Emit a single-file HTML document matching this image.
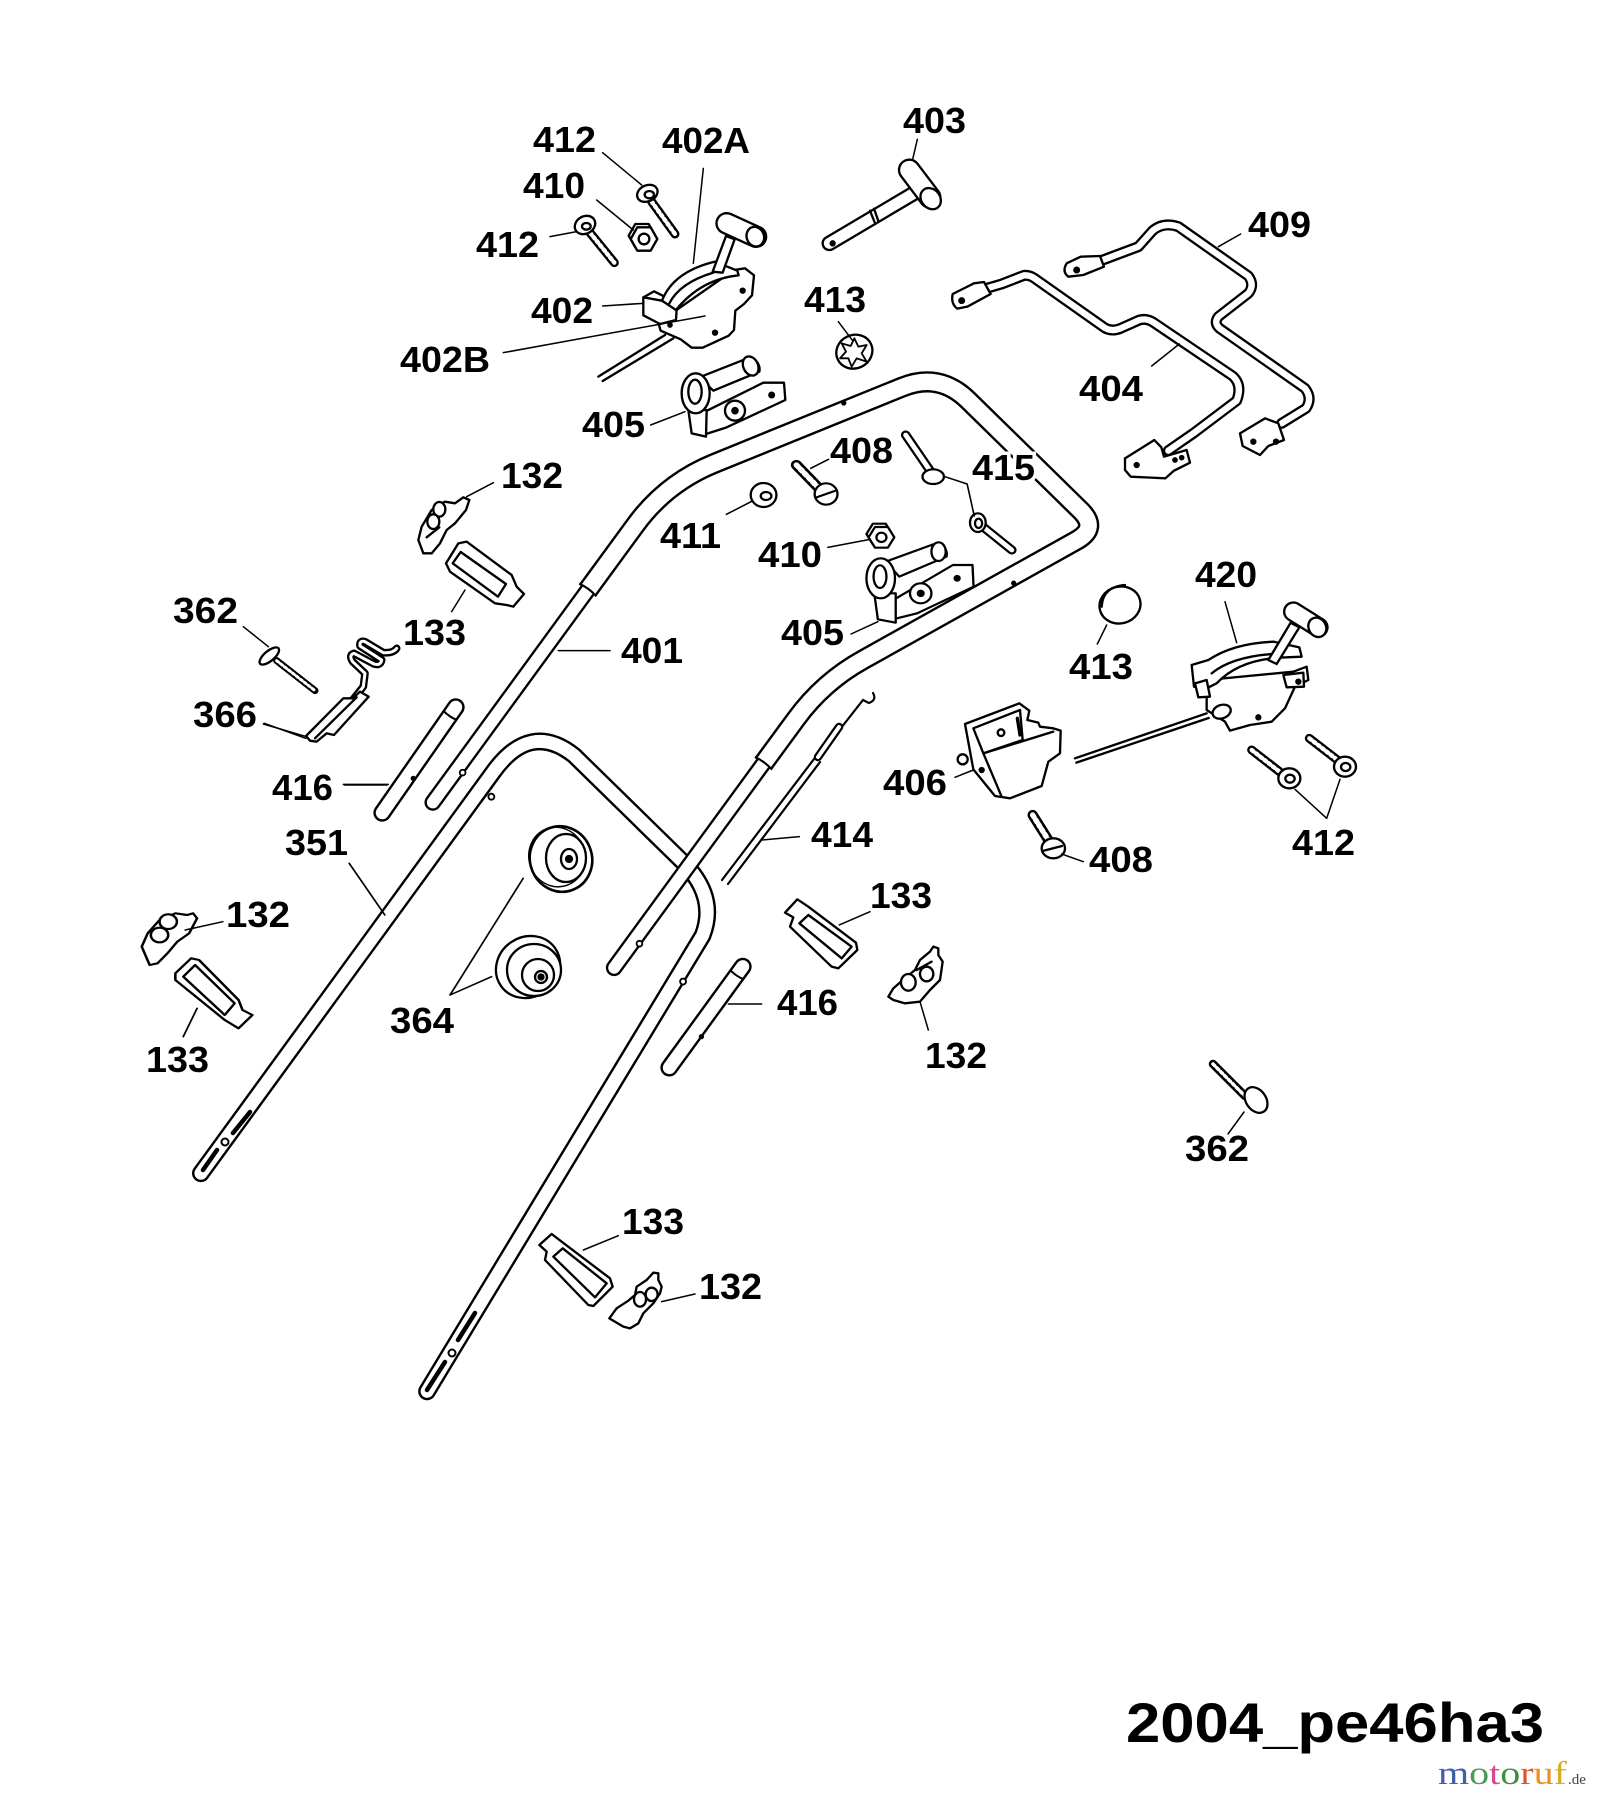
<!DOCTYPE html>
<html><head><meta charset="utf-8"><style>
html,body{margin:0;padding:0;background:#fff;}
svg{display:block}
.t{font-family:"Liberation Sans",Arial,sans-serif;font-weight:bold;font-size:36px;fill:#000}
</style></head><body>
<svg width="1598" height="1800" viewBox="0 0 1598 1800" xmlns="http://www.w3.org/2000/svg">
<rect width="1598" height="1800" fill="#fff"/>

<!-- ===== Handles (display coords, scaled) ===== -->
<g transform="scale(1.148)" fill="none" stroke-linejoin="round">
 <!-- 351 lower handle -->
 <path d="M175 1022 L430 672 Q462 628 500 658 L596 752 Q625 782 612 815 L372 1212" stroke="#000" stroke-width="15.5" stroke-linecap="round"/>
 <path d="M175 1022 L430 672 Q462 628 500 658 L596 752 Q625 782 612 815 L372 1212" stroke="#fff" stroke-width="11.3" stroke-linecap="round"/>
 <circle cx="428" cy="694" r="2.6" fill="#fff" stroke="#000" stroke-width="1.6"/>
 <circle cx="595" cy="855" r="2.6" fill="#fff" stroke="#000" stroke-width="1.6"/>
 <!-- 401 legs -->
 <path d="M377 699 L512 514 M535 843 L665 665" stroke="#000" stroke-width="14.5" stroke-linecap="round"/>
 <path d="M377 699 L512 514 M535 843 L665 665" stroke="#fff" stroke-width="10.4" stroke-linecap="round"/>
 <!-- 401 upper loop -->
 <path d="M512 514 L553.5 457.3 Q580 421 621.6 403.9 L785.6 337.3 Q818 324 843.1 348.4 L941.2 444.6 Q957 460 937.8 470.7 L752 574.6 Q717 594 693.4 626.3 L665 665" stroke="#000" stroke-width="18.5"/>
 <path d="M512 514 L553.5 457.3 Q580 421 621.6 403.9 L785.6 337.3 Q818 324 843.1 348.4 L941.2 444.6 Q957 460 937.8 470.7 L752 574.6 Q717 594 693.4 626.3 L665 665" stroke="#fff" stroke-width="14.3"/>
 <path d="M504.5 508.5 Q513 512 519.5 519.5 M657.5 659.5 Q666 663 672.5 670.5" stroke="#000" stroke-width="1.8"/>
 <circle cx="735" cy="351" r="2.3" fill="#000"/>
 <circle cx="883" cy="508" r="2.3" fill="#000"/>
 <circle cx="403" cy="673" r="2.5" fill="#fff" stroke="#000" stroke-width="1.6"/>
 <circle cx="557" cy="822" r="2.5" fill="#fff" stroke="#000" stroke-width="1.6"/>
 <!-- 416 tubes -->
 <path d="M397 616 L333 708 M647 842 L583 930" stroke="#000" stroke-width="15.5" stroke-linecap="round"/>
 <path d="M397 616 L333 708 M647 842 L583 930" stroke="#fff" stroke-width="11.3" stroke-linecap="round"/>
 <path d="M386 619 Q392 625 398 627 M636 845 Q642 851 648 853" stroke="#000" stroke-width="1.8"/>
 <circle cx="360" cy="678" r="2.3" fill="#000"/>
 <circle cx="611" cy="903" r="2.3" fill="#000"/>
</g>

<!-- 351 slots (orig) -->
<g stroke="#000" fill="none" stroke-linecap="round">
 <path d="M250 1112 L233 1133 M217 1150 L203 1170 M475 1313 L458 1340 M445 1362 L427 1390" stroke-width="4.5"/>
 <circle cx="225" cy="1142" r="3.5" stroke-width="2" fill="#fff"/>
 <circle cx="452" cy="1353" r="3.5" stroke-width="2" fill="#fff"/>
</g>

<!-- 414 cable (orig) -->
<g stroke="#000" fill="none" stroke-linecap="round" stroke-width="2.2">
 <path d="M873 693 Q877 700 869 703 L863 700 L841 728"/>
 <path d="M839 727 L818 757" stroke-width="8.5"/>
 <path d="M839 727 L818 757" stroke="#fff" stroke-width="4"/>
 <path d="M814 759 L722 880 M820 762 L728 884"/>
</g>

<!-- ===== Zoom3 group: 412,410,402,405 ===== -->
<g transform="translate(380 90) scale(0.33333)" stroke="#000" stroke-width="7" stroke-linejoin="round" stroke-linecap="round" fill="#fff">
 <path d="M815 335 L885 432" stroke-width="27" fill="none"/>
 <path d="M815 335 L885 432" stroke="#fff" stroke-width="13" stroke-dasharray="7 9" fill="none"/>
 <ellipse cx="802" cy="310" rx="32" ry="24" transform="rotate(-25 802 310)"/>
 <ellipse cx="808" cy="314" rx="14" ry="11"/>
 <polygon points="826,437 806,472 766,472 746,437 766,402 806,402"/>
 <polygon points="832,447 812,482 772,482 752,447 772,412 812,412"/>
 <circle cx="792" cy="447" r="16"/>
 <path d="M630 428 L703 518" stroke-width="27" fill="none"/>
 <path d="M630 428 L703 518" stroke="#fff" stroke-width="13" stroke-dasharray="7 9" fill="none"/>
 <ellipse cx="615" cy="405" rx="32" ry="26" transform="rotate(-30 615 405)"/>
 <ellipse cx="619" cy="409" rx="13" ry="10"/>
 <!-- 402 -->
 <path d="M855 735 L655 860 M880 745 L668 873" fill="none"/>
 <path d="M835 698 L842 722 L902 748 L935 773 L968 773 L1046 737 L1062 720 L1066 662 L1092 642 L1116 616 L1122 556 L1095 535 L1062 540 Z"/>
 <path d="M790 622 L790 676 L840 702 L888 690 L890 656 L846 632 Z"/>
 <path d="M790 622 L822 604 L866 626 L846 632" fill="none"/>
 <path d="M846 632 Q880 545 1005 515 L1072 542 L1076 556 Q962 568 888 660 Z"/>
 <path d="M868 640 Q900 578 1000 548" fill="none"/>
 <path d="M998 545 L1038 438 L1064 448 L1028 548 Z"/>
 <path d="M1040 400 L1128 440" stroke-width="68" fill="none"/>
 <path d="M1040 400 L1128 440" stroke="#fff" stroke-width="54" fill="none"/>
 <ellipse cx="1126" cy="440" rx="26" ry="30" transform="rotate(-20 1126 440)"/>
 <circle cx="1088" cy="602" r="6" fill="#000"/>
 <circle cx="1005" cy="728" r="6" fill="#000"/>
 <circle cx="870" cy="705" r="5" fill="#000"/>
 <!-- 405 top -->
 <path d="M975 965 L1150 878 L1212 878 L1216 930 L1040 1012 L978 1032 Z"/>
 <circle cx="1065" cy="962" r="30"/>
 <circle cx="1065" cy="962" r="8" fill="#000"/>
 <circle cx="1175" cy="915" r="7" fill="#000"/>
 <path d="M958 862 L1095 808 A32 32 0 0 1 1138 845 L1000 902 Z"/>
 <ellipse cx="1112" cy="828" rx="22" ry="30" transform="rotate(-25 1112 828)"/>
 <path d="M925 960 L935 1030 L978 1040 L980 960 Z"/>
 <ellipse cx="947" cy="910" rx="42" ry="60"/>
 <ellipse cx="945" cy="905" rx="20" ry="36"/>
 <!-- leaders -->
 <g fill="none" stroke-width="4.5">
  <path d="M668 188 L785 285"/>
  <path d="M650 330 L760 420"/>
  <path d="M510 440 L590 425"/>
  <path d="M970 235 L940 520"/>
  <path d="M668 648 L790 640"/>
  <path d="M370 788 L975 678"/>
  <path d="M812 1005 L915 965"/>
 </g>
</g>

<!-- ===== Zoom4 group: 403, 409, 404, 413 ===== -->
<g transform="translate(820 90) scale(0.33333)" stroke="#000" stroke-width="7" stroke-linejoin="round" stroke-linecap="round" fill="#fff">
 <path d="M290 305 L28 460" stroke-width="47" fill="none"/>
 <path d="M290 305 L28 460" stroke="#fff" stroke-width="33" fill="none"/>
 <circle cx="38" cy="460" r="6" fill="#000"/>
 <path d="M150 362 L166 402 M162 356 L176 396" fill="none"/>
 <path d="M268 240 L330 322" stroke-width="69" fill="none"/>
 <path d="M268 240 L330 322" stroke="#fff" stroke-width="55" fill="none"/>
 <ellipse cx="332" cy="326" rx="28" ry="34" transform="rotate(-40 332 326)"/>
 <!-- 409 -->
 <path d="M800 528 L862 505 L955 470 L998 422 Q1030 395 1075 410 L1285 558 Q1305 585 1285 610 L1195 680 Q1180 700 1200 716 L1455 895 Q1478 925 1458 955 L1385 1000" stroke-width="33" fill="none"/>
 <path d="M800 528 L862 505 L955 470 L998 422 Q1030 395 1075 410 L1285 558 Q1305 585 1285 610 L1195 680 Q1180 700 1200 716 L1455 895 Q1478 925 1458 955 L1385 1000" stroke="#fff" stroke-width="19" fill="none"/>
 <path d="M740 520 L782 500 L840 498 L852 530 L790 555 L745 560 Q725 545 740 520 Z"/>
 <circle cx="770" cy="540" r="7" fill="#000"/>
 <path d="M1260 1030 L1335 985 L1375 1000 L1392 1050 L1345 1068 L1320 1095 L1268 1068 Z"/>
 <circle cx="1300" cy="1055" r="6" fill="#000"/>
 <circle cx="1368" cy="1055" r="6" fill="#000"/>
 <!-- 404 -->
 <path d="M490 598 L545 582 L612 556 Q630 555 645 566 L855 714 Q875 725 900 716 L958 690 Q980 684 1000 697 L1238 858 Q1268 885 1250 932 L1120 1030 L1045 1082" stroke-width="33" fill="none"/>
 <path d="M490 598 L545 582 L612 556 Q630 555 645 566 L855 714 Q875 725 900 716 L958 690 Q980 684 1000 697 L1238 858 Q1268 885 1250 932 L1120 1030 L1045 1082" stroke="#fff" stroke-width="19" fill="none"/>
 <path d="M398 612 L462 580 L492 576 L512 612 L442 650 L412 656 Q392 642 398 612 Z"/>
 <circle cx="425" cy="632" r="7" fill="#000"/>
 <path d="M915 1105 L1003 1050 L1024 1072 L1032 1100 L1100 1080 L1110 1118 L1062 1142 L1036 1165 L932 1160 L915 1140 Z"/>
 <circle cx="950" cy="1125" r="6" fill="#000"/>
 <circle cx="1065" cy="1110" r="5" fill="#000"/>
 <circle cx="1085" cy="1103" r="5" fill="#000"/>
 <!-- 413 star washer -->
 <ellipse cx="103" cy="785" rx="55" ry="50" transform="rotate(-25 103 785)"/>
 <polygon points="103,745 115,770 140,765 125,790 140,815 110,805 95,830 85,805 60,805 78,785 65,760 92,768" stroke-width="5.5"/>
 <g fill="none" stroke-width="4.5">
  <path d="M292 148 L278 208"/>
  <path d="M1262 432 L1195 470"/>
  <path d="M995 828 L1078 762"/>
  <path d="M55 695 L98 752"/>
 </g>
</g>

<!-- ===== Zoom5 group: 415, 408, 411, 410, 405 ===== -->
<g transform="translate(560 360) scale(0.357143 0.333333)" stroke="#000" stroke-width="6.5" stroke-linejoin="round" stroke-linecap="round" fill="#fff">
 <path d="M968 225 L1035 330" stroke-width="27" fill="none"/>
 <path d="M968 225 L1035 330" stroke="#fff" stroke-width="14" fill="none"/>
 <ellipse cx="1045" cy="350" rx="30" ry="22"/>
 <path d="M1178 495 L1265 570" stroke-width="27" fill="none"/>
 <path d="M1178 495 L1265 570" stroke="#fff" stroke-width="14" fill="none"/>
 <ellipse cx="1170" cy="488" rx="22" ry="28"/>
 <ellipse cx="1172" cy="490" rx="10" ry="14"/>
 <!-- 408 -->
 <path d="M662 315 L728 388" stroke-width="31" fill="none"/>
 <path d="M662 315 L728 388" stroke="#fff" stroke-width="16" stroke-dasharray="8 9" fill="none"/>
 <ellipse cx="745" cy="402" rx="32" ry="32"/>
 <path d="M718 412 L772 392" fill="none"/>
 <!-- 411 -->
 <ellipse cx="570" cy="405" rx="36" ry="36"/>
 <ellipse cx="577" cy="408" rx="15" ry="12"/>
 <!-- 410 -->
 <polygon points="930,522 912,553 876,553 858,522 876,491 912,491"/>
 <polygon points="936,532 918,563 882,563 864,532 882,501 918,501"/>
 <circle cx="900" cy="532" r="14"/>
 <!-- 405 second -->
 <path d="M930 722 L1100 615 L1155 615 L1158 680 L1000 760 L932 778 Z"/>
 <circle cx="1010" cy="700" r="30"/>
 <circle cx="1010" cy="700" r="8" fill="#000"/>
 <circle cx="1112" cy="655" r="7" fill="#000"/>
 <path d="M912 605 L1040 555 A30 30 0 0 1 1082 590 L950 650 Z"/>
 <ellipse cx="1060" cy="575" rx="20" ry="28"/>
 <path d="M880 700 L890 778 L940 788 L940 700 Z"/>
 <ellipse cx="898" cy="655" rx="40" ry="60"/>
 <ellipse cx="896" cy="650" rx="18" ry="34"/>
 <g fill="none" stroke-width="4.5">
  <path d="M1078 350 L1140 372 L1160 468"/>
  <path d="M702 325 L752 298"/>
  <path d="M466 463 L535 425"/>
  <path d="M750 562 L868 538"/>
  <path d="M815 822 L890 785"/>
 </g>
</g>

<!-- ===== Zoom6 group: 413, 420, 406, 412, 408 ===== -->
<g transform="translate(940 540) scale(0.33333)" stroke="#000" stroke-width="7" stroke-linejoin="round" stroke-linecap="round" fill="#fff">
 <ellipse cx="540" cy="195" rx="62" ry="55" transform="rotate(-15 540 195)"/>
 <path d="M485 200 Q488 140 555 135" fill="none"/>
 <!-- cable -->
 <path d="M800 520 L405 655 M806 534 L409 668" fill="none"/>
 <!-- 420 -->
 <path d="M800 420 L1060 395 L1100 380 L1105 420 L1065 440 L1035 505 L995 545 L930 555 L870 572 L855 545 L800 510 Z"/>
 <path d="M755 375 L805 360 Q880 310 1000 305 L1078 322 L1085 350 L1040 352 Q900 355 830 430 L800 445 L762 440 Z"/>
 <path d="M815 400 Q880 345 1030 340" fill="none"/>
 <path d="M985 360 L1052 248 L1078 262 L1010 372 Z"/>
 <path d="M1060 215 L1135 262" stroke-width="62" fill="none"/>
 <path d="M1060 215 L1135 262" stroke="#fff" stroke-width="48" fill="none"/>
 <ellipse cx="1132" cy="262" rx="26" ry="30" transform="rotate(-30 1132 262)"/>
 <path d="M1030 405 L1090 398 L1092 440 L1040 442 Z"/>
 <path d="M765 430 L800 420 L810 470 L775 472 Z"/>
 <ellipse cx="845" cy="515" rx="28" ry="20" transform="rotate(-20 845 515)"/>
 <circle cx="955" cy="532" r="6" fill="#000"/>
 <circle cx="1075" cy="425" r="6" fill="#000"/>
 <!-- 406 -->
 <circle cx="68" cy="658" r="15"/>
 <path d="M75 552 L238 490 L268 512 L262 540 L295 548 L300 560 L340 565 L362 572 L360 640 L325 665 L305 738 L210 775 L165 768 L100 688 Z"/>
 <path d="M100 565 L240 510 L248 600 L130 640 Z"/>
 <path d="M130 640 L185 770 M130 640 L340 575" fill="none"/>
 <circle cx="183" cy="578" r="10"/>
 <path d="M232 535 L240 585" stroke-width="10" fill="none"/>
 <circle cx="125" cy="690" r="6" fill="#000"/>
 <!-- 412 pair -->
 <path d="M935 630 L1025 700" stroke-width="27" fill="none"/>
 <path d="M935 630 L1025 700" stroke="#fff" stroke-width="13" stroke-dasharray="7 9" fill="none"/>
 <ellipse cx="1048" cy="715" rx="33" ry="30"/>
 <ellipse cx="1050" cy="716" rx="14" ry="12"/>
 <path d="M1108 595 L1195 662" stroke-width="27" fill="none"/>
 <path d="M1108 595 L1195 662" stroke="#fff" stroke-width="13" stroke-dasharray="7 9" fill="none"/>
 <ellipse cx="1215" cy="680" rx="33" ry="30"/>
 <ellipse cx="1217" cy="681" rx="14" ry="12"/>
 <!-- 408 second -->
 <path d="M278 825 L325 900" stroke-width="31" fill="none"/>
 <path d="M278 825 L325 900" stroke="#fff" stroke-width="16" stroke-dasharray="8 9" fill="none"/>
 <ellipse cx="340" cy="925" rx="35" ry="30"/>
 <path d="M312 932 L366 918" fill="none"/>
 <g fill="none" stroke-width="4.5">
  <path d="M500 255 L472 312"/>
  <path d="M855 185 L890 308"/>
  <path d="M45 712 L100 690"/>
  <path d="M1160 835 L1065 748 M1160 835 L1200 718"/>
  <path d="M365 942 L430 965"/>
 </g>
</g>

<!-- ===== Zoom7 group: 132, 133, 362, 366 ===== -->
<g transform="translate(130 440) scale(0.33333)" stroke="#000" stroke-width="7" stroke-linejoin="round" stroke-linecap="round" fill="#fff">
 <path d="M865 300 L875 260 L905 210 L945 185 L975 190 L1000 172 L1018 180 L1008 210 L975 250 L950 270 L930 310 L905 340 L880 340 Z"/>
 <ellipse cx="928" cy="208" rx="18" ry="22"/>
 <ellipse cx="910" cy="245" rx="18" ry="22"/>
 <path d="M890 292 L928 262" fill="none"/>
 <path d="M948 370 L985 310 L1010 305 L1145 405 L1160 440 L1182 462 L1150 500 L1130 495 L1095 490 L960 395 Z"/>
 <path d="M968 370 L992 336 L1128 432 L1104 470 Z"/>
 <path d="M440 662 L555 752" stroke-width="21" fill="none"/>
 <path d="M440 662 L555 752" stroke="#fff" stroke-width="9" stroke-dasharray="7 8" fill="none"/>
 <ellipse cx="418" cy="648" rx="36" ry="15" transform="rotate(-40 418 648)"/>
 <path d="M800 625 Q790 640 760 638 L705 605 Q688 600 690 618 L755 660 Q752 678 732 672 L672 640 Q655 645 668 665 L705 700 L700 740 L660 790" stroke-width="23" fill="none"/>
 <path d="M800 625 Q790 640 760 638 L705 605 Q688 600 690 618 L755 660 Q752 678 732 672 L672 640 Q655 645 668 665 L705 700 L700 740 L660 790" stroke="#fff" stroke-width="9" fill="none"/>
 <path d="M528 888 L640 775 L668 775 L690 755 L716 770 L612 885 L590 880 L560 905 L540 902 Z"/>
 <path d="M555 895 L680 772" fill="none"/>
 <g fill="none" stroke-width="4.5">
  <path d="M1010 170 L1090 128"/>
  <path d="M965 515 L1005 450"/>
  <path d="M340 560 L415 620"/>
  <path d="M400 852 L530 890"/>
  <path d="M640 1033 L775 1033"/>
  <path d="M1285 632 L1440 632"/>
 </g>
</g>

<!-- ===== Zoom8 group: 132, 133 left, leaders ===== -->
<g transform="translate(120 700) scale(0.39526 0.33333)" stroke="#000" stroke-width="6.5" stroke-linejoin="round" stroke-linecap="round" fill="#fff">
 <path d="M55 740 L70 700 L100 660 L140 640 L170 645 L185 640 L195 655 L175 700 L145 725 L120 760 L95 790 L75 795 Z"/>
 <ellipse cx="122" cy="665" rx="22" ry="22"/>
 <ellipse cx="100" cy="705" rx="22" ry="22"/>
 <path d="M140 820 L180 775 L200 780 L300 900 L310 930 L335 945 L300 985 L265 960 L140 840 Z"/>
 <path d="M160 830 L190 795 L290 910 L265 945 Z"/>
 <g fill="none" stroke-width="4.5">
  <path d="M260 665 L165 690"/>
  <path d="M160 1010 L195 925"/>
  <path d="M835 885 L1020 535 M835 885 L940 830"/>
  <path d="M580 490 L670 645"/>
  <path d="M365 70 L470 115"/>
  <path d="M568 255 L675 255"/>
 </g>
</g>

<!-- 364 knobs (orig) -->
<g stroke="#000" stroke-width="2.3" fill="#fff">
 <ellipse cx="561" cy="859" rx="31" ry="33" transform="rotate(-20 561 859)" stroke-width="2.6"/>
 <ellipse cx="557" cy="857" rx="28" ry="30" transform="rotate(-20 557 857)" fill="none" stroke-width="1.4"/>
 <ellipse cx="566" cy="858" rx="20" ry="24"/>
 <ellipse cx="569" cy="859" rx="8" ry="10"/>
 <circle cx="569" cy="859" r="3" fill="#000"/>
 <ellipse cx="528" cy="967" rx="33" ry="30" transform="rotate(-35 528 967)"/>
 <ellipse cx="534" cy="970" rx="27" ry="26"/>
 <ellipse cx="538" cy="975" rx="16" ry="16"/>
 <circle cx="541" cy="977" r="6"/>
 <circle cx="541" cy="977" r="2.5" fill="#000"/>
</g>

<!-- ===== Zoom9 group: 133, 132 ===== -->
<g transform="translate(560 780) scale(0.33333)" stroke="#000" stroke-width="7" stroke-linejoin="round" stroke-linecap="round" fill="#fff">
 <path d="M675 398 L712 358 L745 380 L888 488 L892 510 L835 565 L815 560 L690 440 L700 412 Z"/>
 <path d="M718 430 L745 405 L875 500 L845 535 Z"/>
 <path d="M985 650 L1000 625 L1040 590 L1065 570 L1080 540 L1110 515 L1120 500 L1135 505 L1135 525 L1148 545 L1140 600 L1110 630 L1080 665 L1035 670 L1000 660 Z"/>
 <ellipse cx="1045" cy="607" rx="22" ry="25"/>
 <ellipse cx="1100" cy="582" rx="20" ry="22"/>
 <path d="M1070 570 L1115 545" fill="none"/>
 <g fill="none" stroke-width="4.5">
  <path d="M605 180 L718 170"/>
  <path d="M838 435 L930 395"/>
  <path d="M505 672 L605 672"/>
  <path d="M1080 665 L1105 750"/>
 </g>
</g>

<!-- ===== Zoom10 group: 133, 132 bottom ===== -->
<g transform="translate(380 1060) scale(0.33333)" stroke="#000" stroke-width="7" stroke-linejoin="round" stroke-linecap="round" fill="#fff">
 <path d="M478 555 L515 522 L545 545 L690 655 L698 680 L640 738 L625 735 L495 600 L500 575 Z"/>
 <path d="M520 590 L548 565 L680 670 L645 712 Z"/>
 <path d="M688 775 L710 745 L745 722 L765 705 L770 680 L800 660 L820 638 L835 640 L835 660 L845 680 L840 700 L820 730 L790 760 L775 790 L750 805 L730 800 Z"/>
 <ellipse cx="780" cy="718" rx="18" ry="22"/>
 <ellipse cx="815" cy="703" rx="18" ry="20"/>
 <g fill="none" stroke-width="4.5">
  <path d="M610 570 L715 527"/>
  <path d="M845 725 L945 702"/>
 </g>
</g>

<!-- 362 lower right (orig) -->
<g stroke="#000" stroke-linecap="round" fill="#fff">
 <path d="M1213 1064 L1245 1096" stroke-width="8.5" fill="none"/>
 <path d="M1213 1064 L1245 1096" stroke="#fff" stroke-width="3.5" stroke-dasharray="2.5 3" fill="none"/>
 <ellipse cx="1256" cy="1100" rx="10" ry="14" transform="rotate(-35 1256 1100)" stroke-width="2.3"/>
 <path d="M1244 1112 L1228 1134" stroke-width="1.5" fill="none"/>
</g>

<!-- ===== Labels ===== -->
<g class="t">
 <text class="t" x="533" y="152" textLength="63" lengthAdjust="spacingAndGlyphs">412</text>
 <text class="t" x="662" y="153" textLength="88" lengthAdjust="spacingAndGlyphs">402A</text>
 <text class="t" x="523" y="198" textLength="62" lengthAdjust="spacingAndGlyphs">410</text>
 <text class="t" x="903" y="133" textLength="63" lengthAdjust="spacingAndGlyphs">403</text>
 <text class="t" x="1248" y="237" textLength="63" lengthAdjust="spacingAndGlyphs">409</text>
 <text class="t" x="476" y="257" textLength="63" lengthAdjust="spacingAndGlyphs">412</text>
 <text class="t" x="804" y="312" textLength="62" lengthAdjust="spacingAndGlyphs">413</text>
 <text class="t" x="531" y="323" textLength="62" lengthAdjust="spacingAndGlyphs">402</text>
 <text class="t" x="400" y="372" textLength="90" lengthAdjust="spacingAndGlyphs">402B</text>
 <text class="t" x="1079" y="401" textLength="64" lengthAdjust="spacingAndGlyphs">404</text>
 <text class="t" x="582" y="437" textLength="63" lengthAdjust="spacingAndGlyphs">405</text>
 <text class="t" x="830" y="463" textLength="63" lengthAdjust="spacingAndGlyphs">408</text>
 <text class="t" x="972" y="480" textLength="63" lengthAdjust="spacingAndGlyphs" stroke="#fff" stroke-width="7" paint-order="stroke">415</text>
 <text class="t" x="501" y="488" textLength="62" lengthAdjust="spacingAndGlyphs">132</text>
 <text class="t" x="660" y="548" textLength="61" lengthAdjust="spacingAndGlyphs">411</text>
 <text class="t" x="758" y="567" textLength="64" lengthAdjust="spacingAndGlyphs">410</text>
 <text class="t" x="1195" y="587" textLength="62" lengthAdjust="spacingAndGlyphs">420</text>
 <text class="t" x="173" y="623" textLength="65" lengthAdjust="spacingAndGlyphs">362</text>
 <text class="t" x="403" y="645" textLength="63" lengthAdjust="spacingAndGlyphs">133</text>
 <text class="t" x="781" y="645" textLength="63" lengthAdjust="spacingAndGlyphs">405</text>
 <text class="t" x="621" y="663" textLength="62" lengthAdjust="spacingAndGlyphs">401</text>
 <text class="t" x="1069" y="679" textLength="64" lengthAdjust="spacingAndGlyphs">413</text>
 <text class="t" x="193" y="727" textLength="64" lengthAdjust="spacingAndGlyphs">366</text>
 <text class="t" x="883" y="795" textLength="64" lengthAdjust="spacingAndGlyphs">406</text>
 <text class="t" x="272" y="800" textLength="61" lengthAdjust="spacingAndGlyphs">416</text>
 <text class="t" x="811" y="847" textLength="62" lengthAdjust="spacingAndGlyphs">414</text>
 <text class="t" x="285" y="855" textLength="63" lengthAdjust="spacingAndGlyphs">351</text>
 <text class="t" x="1292" y="855" textLength="63" lengthAdjust="spacingAndGlyphs">412</text>
 <text class="t" x="1089" y="872" textLength="64" lengthAdjust="spacingAndGlyphs">408</text>
 <text class="t" x="870" y="908" textLength="62" lengthAdjust="spacingAndGlyphs">133</text>
 <text class="t" x="226" y="927" textLength="64" lengthAdjust="spacingAndGlyphs">132</text>
 <text class="t" x="390" y="1033" textLength="64" lengthAdjust="spacingAndGlyphs">364</text>
 <text class="t" x="777" y="1015" textLength="61" lengthAdjust="spacingAndGlyphs">416</text>
 <text class="t" x="925" y="1068" textLength="62" lengthAdjust="spacingAndGlyphs">132</text>
 <text class="t" x="146" y="1072" textLength="63" lengthAdjust="spacingAndGlyphs">133</text>
 <text class="t" x="1185" y="1161" textLength="64" lengthAdjust="spacingAndGlyphs">362</text>
 <text class="t" x="622" y="1234" textLength="62" lengthAdjust="spacingAndGlyphs">133</text>
 <text class="t" x="699" y="1299" textLength="63" lengthAdjust="spacingAndGlyphs">132</text>
</g>
<text x="1126" y="1742" font-family="Liberation Sans, Arial, sans-serif" font-weight="bold" font-size="56" textLength="418" lengthAdjust="spacingAndGlyphs" fill="#000">2004_pe46ha3</text>
<text x="1438" y="1784" font-family="Liberation Serif, serif" font-size="33" textLength="129" lengthAdjust="spacingAndGlyphs"><tspan fill="#3f5fa8">m</tspan><tspan fill="#4a9a5a">o</tspan><tspan fill="#d04c8c">t</tspan><tspan fill="#3e8e3e">o</tspan><tspan fill="#e0562a">r</tspan><tspan fill="#e8902a">u</tspan><tspan fill="#d4b020">f</tspan></text>
<text x="1568" y="1784" font-family="Liberation Serif, serif" font-size="15" fill="#444">.de</text>
</svg>
</body></html>
